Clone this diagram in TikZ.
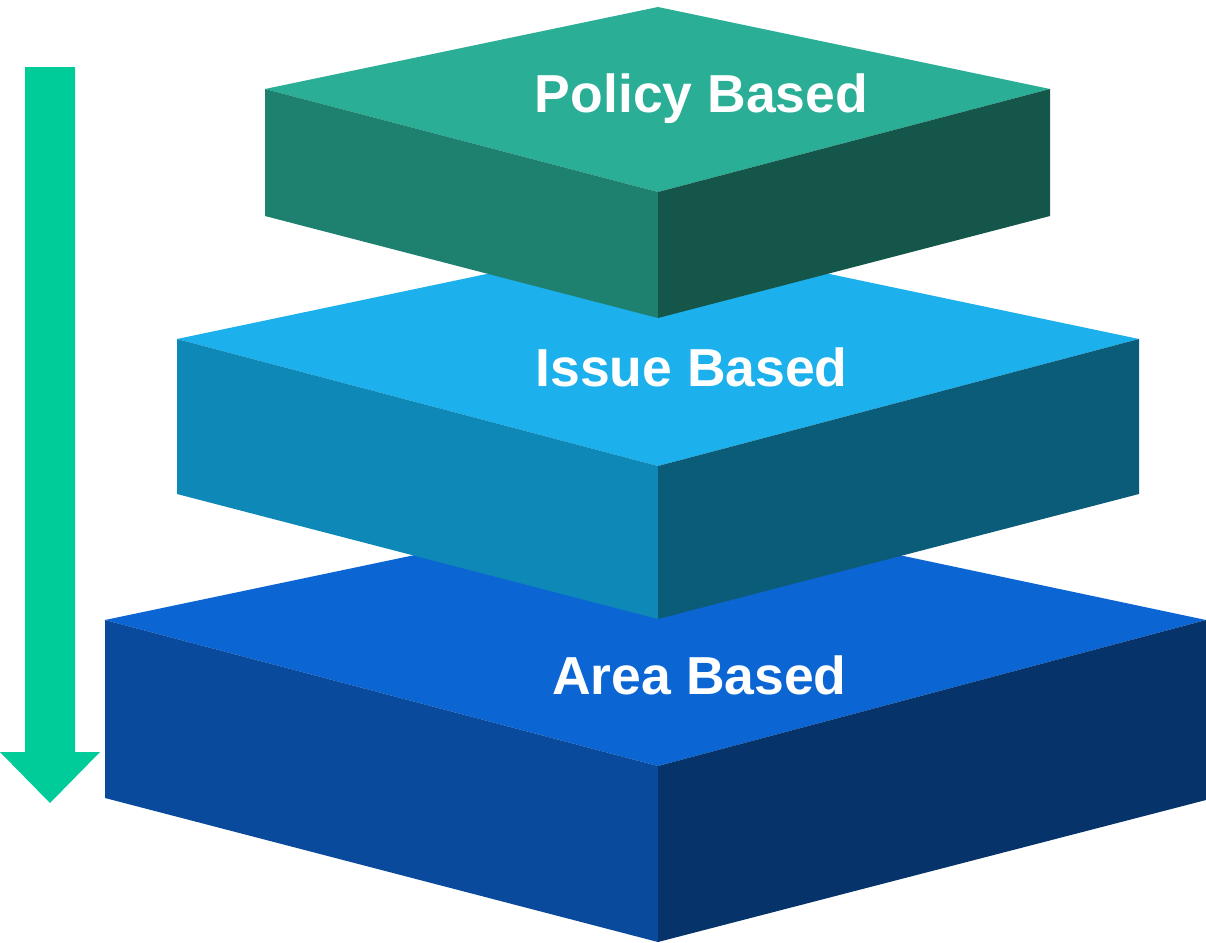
\documentclass[tikz,border=0pt]{standalone}
\usepackage{fontspec}
\setmainfont{Liberation Sans}
\begin{document}
\begin{tikzpicture}[x=1pt,y=-1pt,
  lbl/.style={text=white,font=\fontsize{53.5}{60}\selectfont\bfseries,inner sep=0pt,anchor=base}]
\definecolor{ptop}{HTML}{2AAE96}
\definecolor{pleft}{HTML}{1E806E}
\definecolor{pright}{HTML}{14574A}
\definecolor{itop}{HTML}{1CB0EC}
\definecolor{ileft}{HTML}{0E88B6}
\definecolor{iright}{HTML}{0B5C78}
\definecolor{atop}{HTML}{0B66D4}
\definecolor{aleft}{HTML}{0A4A9C}
\definecolor{aright}{HTML}{06346A}
\definecolor{arrowc}{HTML}{00CC99}
\useasboundingbox (0,0) rectangle (1206,942);
% bottom slab
\fill[atop] (105,620) -- (658,504) -- (1206,620) -- (658,766) -- cycle;
\fill[aleft] (105,620) -- (658,766) -- (658,942) -- (105,798) -- cycle;
\fill[aright] (658,766) -- (1206,620) -- (1206,800) -- (658,942) -- cycle;
% middle slab
\fill[itop] (177,339) -- (658,238) -- (1139,339) -- (658,466) -- cycle;
\fill[ileft] (177,339) -- (658,466) -- (658,619) -- (177,494) -- cycle;
\fill[iright] (658,466) -- (1139,339) -- (1139,494) -- (658,619) -- cycle;
% top slab
\fill[ptop] (265,89) -- (658,7) -- (1050,89) -- (658,192) -- cycle;
\fill[pleft] (265,89) -- (658,192) -- (658,318) -- (265,216) -- cycle;
\fill[pright] (658,192) -- (1050,89) -- (1050,216) -- (658,318) -- cycle;
% labels
\node[lbl] (policy) at (701.5,112) {Policy Based};
\node[lbl] (issue) at (691.5,386) {Issue Based};
\node[lbl] (area) at (699.5,694) {Area Based};
% arrow
\fill[arrowc] (25,67) -- (75,67) -- (75,752) -- (100,752) -- (50,803) -- (0,752) -- (25,752) -- cycle;
\end{tikzpicture}
\end{document}
